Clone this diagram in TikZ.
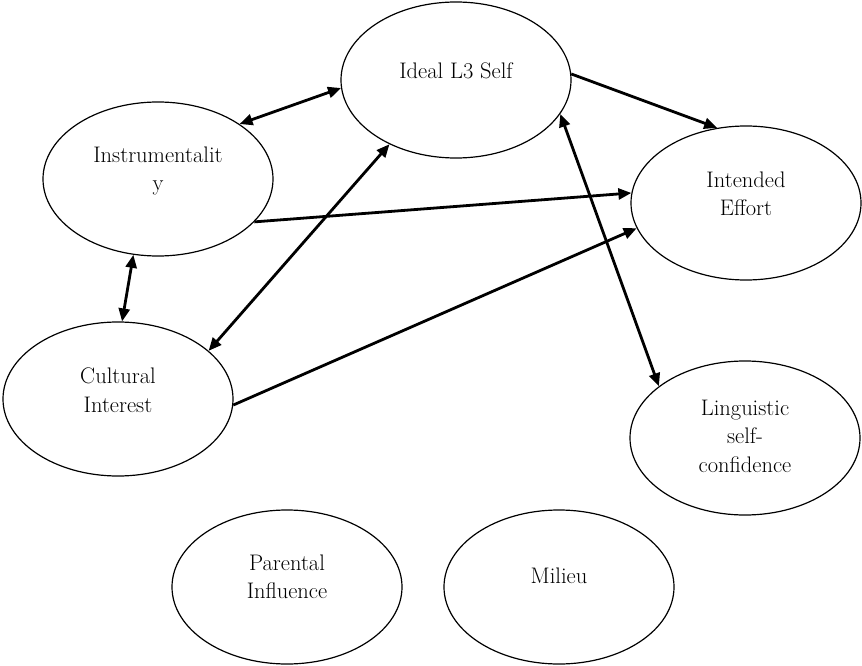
\documentclass[tikz,border=0pt]{standalone}
\usetikzlibrary{arrows.meta,shapes.geometric}
\begin{document}
\begin{tikzpicture}[x=1pt,y=1pt,
  ell/.style={ellipse,draw=black,line width=1.2pt,minimum width=230pt,minimum height=154pt,inner sep=0pt},
  lbl/.style={font=\fontsize{22.5}{28.5}\selectfont,align=center,inner sep=0pt},
  con/.style={line width=2.8pt,-{Triangle[length=13pt,width=11pt]}},
  bicon/.style={line width=2.8pt,{Triangle[length=13pt,width=11pt]}-{Triangle[length=13pt,width=11pt]}}]
\useasboundingbox (0,0) rectangle (862,-666);
\node[ell,minimum height=156pt,label={[lbl,yshift=9pt]center:Ideal L3 Self}] (ideal) at (456,-80) {};
\node[ell,label={[lbl,yshift=8pt]center:Instrumentalit\\y}] (instr) at (158,-179) {};
\node[ell,label={[lbl,yshift=9pt]center:Intended\\Effort}] (effort) at (746,-203) {};
\node[ell,label={[lbl,yshift=9pt]center:Cultural\\Interest}] (cult) at (118,-399) {};
\node[ell,label={[lbl,yshift=2pt]center:Linguistic\\self-\\confidence}] (ling) at (745,-438) {};
\node[ell,label={[lbl,yshift=10pt]center:Parental\\Influence}] (par) at (287,-587) {};
\node[ell,label={[lbl,yshift=11pt]center:Milieu}] (mil) at (559,-587) {};
\draw[bicon] (instr.34.5) -- (ideal.184);
\draw[bicon] (instr.252) -- (cult.87);
\draw[con] (instr.336) -- (effort.175);
\draw[bicon] (cult.28.7) -- (ideal.224.6);
\draw[con] (cult.357.5) -- (effort.193.5);
\draw[con] (ideal.3.5) -- (effort.111);
\draw[bicon] (ideal.342.7) -- (ling.149.7);
\end{tikzpicture}
\end{document}
